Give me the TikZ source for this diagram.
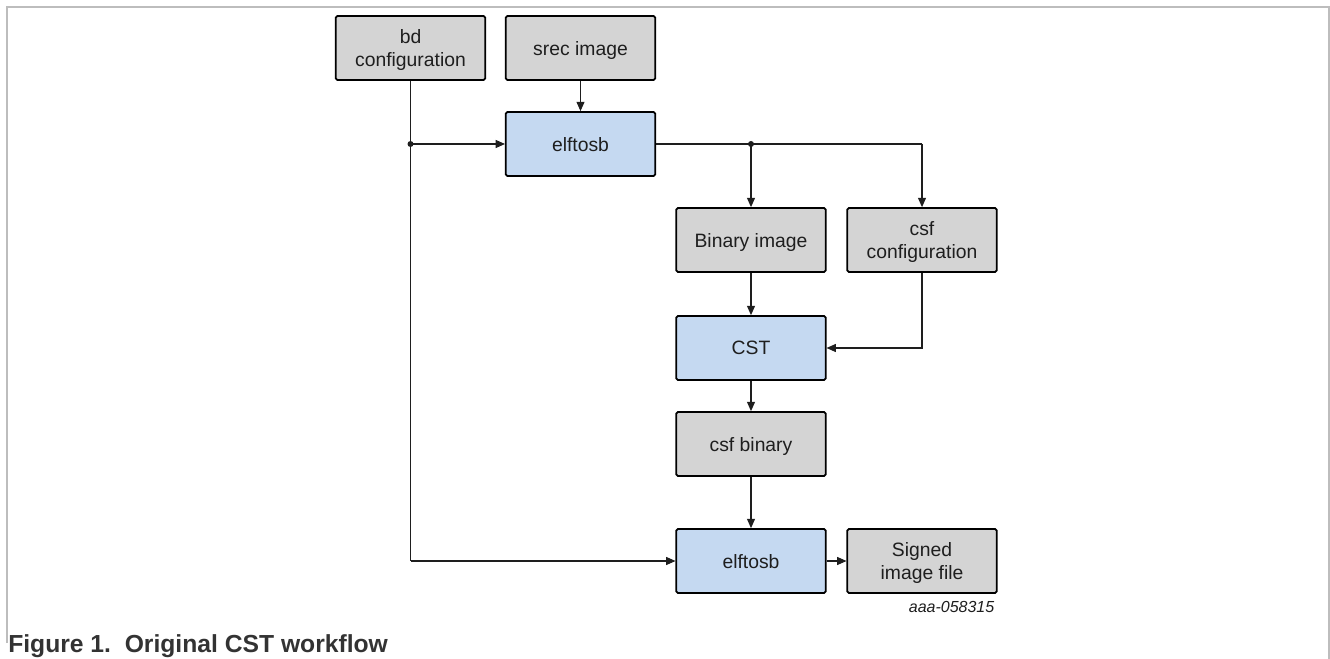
\documentclass[tikz,border=0pt]{standalone}
\usepackage{fontspec}
\setmainfont{Liberation Sans}
\usetikzlibrary{arrows.meta}
\definecolor{boxgray}{HTML}{D4D4D4}
\definecolor{toolblue}{HTML}{C5D9F1}
\definecolor{framegray}{HTML}{BDBDBD}
\definecolor{inkgray}{HTML}{1E1E1E}
\begin{document}
\begin{tikzpicture}[x=0.75pt, y=-0.75pt,
    every node/.style={font=\fontsize{14.5}{17}\selectfont, text=inkgray},
    filebox/.style={draw=black, line width=1.3pt, rounded corners=1.2pt, fill=boxgray,
      minimum width=112pt, minimum height=48pt, align=center, inner sep=0pt,
      text depth=0pt},
    toolbox/.style={filebox, fill=toolblue},
    link/.style={draw=inkgray, line width=0.8pt},
    flow/.style={link, -{Triangle[length=7pt, width=6pt]}},
    joint/.style={fill=inkgray, circle, inner sep=0pt, minimum size=4.5pt}]
      \useasboundingbox (0,0) rectangle (1330,659);
      % outer frame
      \draw[framegray, line width=1.5pt] (7,643) -- (7,7) -- (1329,7) -- (1329,659);
      % nodes
      \node[filebox] (bd) at (410.5,48) {bd\\configuration};
      \node[filebox] (srec) at (580.5,48) {srec image};
      \node[toolbox] (elf1) at (580.5,144) {elftosb};
      \node[filebox] (bin) at (751,240) {Binary image};
      \node[filebox] (csfcfg) at (922,240) {csf\\configuration};
      \node[toolbox] (cst) at (751,348) {CST};
      \node[filebox] (csfbin) at (751,444) {csf binary};
      \node[toolbox] (elf2) at (751,561) {elftosb};
      \node[filebox] (signed) at (922,561) {Signed\\image file};
      % bd configuration feeds both elftosb steps
      \coordinate (bdjoin) at (bd |- elf1);
      \draw[link] (bd.south) -- (bd |- elf2);
      \draw[flow] (bd |- elf2) -- (elf2.west);
      \draw[flow] (bdjoin) -- (elf1.west);
      \node[joint] at (bdjoin) {};
      \draw[flow] (srec) -- (elf1);
      % first elftosb output splits
      \coordinate (outjoin) at (bin |- elf1);
      \draw[link] (elf1.east) -- (csfcfg |- elf1);
      \draw[flow] (csfcfg |- elf1) -- (csfcfg.north);
      \draw[flow] (outjoin) -- (bin.north);
      \node[joint] at (outjoin) {};
      % CST chain
      \draw[flow] (bin) -- (cst);
      \draw[flow] (csfcfg.south) |- (cst.east);
      \draw[flow] (cst) -- (csfbin);
      \draw[flow] (csfbin) -- (elf2);
      \draw[flow] (elf2) -- (signed);
      % labels
      \node[anchor=east, font=\fontsize{12}{14}\selectfont\itshape] (tag) at (999,607) {aaa-058315};
      \node[anchor=west, inner sep=0pt, text=black!80, font=\fontsize{18.5}{22}\selectfont\bfseries] (caption) at (8,646) {Figure 1.\ \ Original CST workflow};
\end{tikzpicture}
\end{document}
